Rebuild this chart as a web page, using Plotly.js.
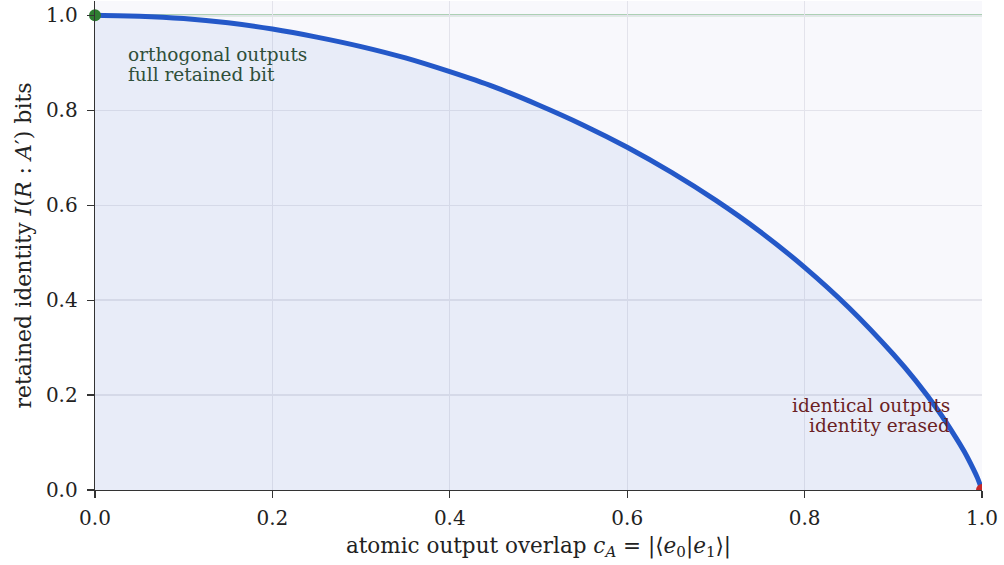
<!DOCTYPE html>
<html><head><meta charset="utf-8">
<script src="https://cdn.plot.ly/plotly-3.0.1.min.js"></script>
<style>html,body{margin:0;padding:0;background:#fff}</style>
</head><body>
<div id="chart" style="width:1004px;height:565px"></div>
<script>
const overlap = [0, 0.05, 0.1, 0.15, 0.2, 0.25, 0.3, 0.35, 0.4, 0.45, 0.5, 0.55, 0.6, 0.65, 0.7, 0.75, 0.8, 0.85, 0.9, 0.925, 0.95, 0.97, 0.98, 0.99, 0.995, 1.0];
const retained = [1.0, 0.998, 0.993, 0.984, 0.971, 0.954, 0.934, 0.910, 0.881, 0.849, 0.811, 0.769, 0.722, 0.669, 0.610, 0.544, 0.469, 0.384, 0.286, 0.231, 0.169, 0.112, 0.081, 0.045, 0.025, 0.0];
const endpointsX = [0, 1];
const endpointsY = [1, 0];
const xTicks = [0, 0.2, 0.4, 0.6, 0.8, 1.0];
const yTicks = [0, 0.2, 0.4, 0.6, 0.8, 1.0];
const leftNote = ['orthogonal outputs', 'full retained bit'];
const rightNote = ['identical outputs', 'identity erased'];

const font = "DejaVu Serif";
const traces = [
  {x: overlap, y: retained, type: 'scatter', mode: 'lines', fill: 'tozeroy',
   fillcolor: 'rgba(36,88,200,0.075)', line: {color: '#2458c8', width: 5, shape: 'spline', smoothing: 0.6}, hoverinfo: 'skip'},
  {x: [endpointsX[0]], y: [endpointsY[0]], type: 'scatter', mode: 'markers', cliponaxis: false,
   marker: {color: '#2e7d32', size: 12}},
  {x: [endpointsX[1]], y: [endpointsY[1]], type: 'scatter', mode: 'markers', cliponaxis: true,
   marker: {color: '#c62828', size: 12}}
];
const axisCommon = {
  showgrid: true, gridcolor: '#e3e3eb', gridwidth: 1.3, zeroline: false,
  showline: true, linecolor: '#333', linewidth: 1.3, mirror: false,
  ticks: 'outside', ticklen: 7, tickcolor: '#333', tickwidth: 1.2,
  tickfont: {family: font, size: 20, color: '#222'}, tickformat: '.1f'
};
const noteFont = (c) => ({family: font, size: 18.5, color: c});
const layout = {
  width: 1004, height: 565,
  margin: {l: 95, r: 22, t: 1, b: 75},
  paper_bgcolor: '#ffffff', plot_bgcolor: '#f8f8fc',
  showlegend: false,
  font: {family: font, color: '#222'},
  xaxis: Object.assign({}, axisCommon, {range: [0, 1], tickvals: xTicks, ticklabelstandoff: 3,
    title: {text: 'atomic output overlap <i>c</i><sub><i>A</i></sub> = |⟨<i>e</i><sub>0</sub>|<i>e</i><sub>1</sub>⟩|', font: {family: font, size: 21.5, color: '#222'}, standoff: 8}}),
  yaxis: Object.assign({}, axisCommon, {range: [0, 1.03], tickvals: yTicks, ticklabelstandoff: 5,
    title: {text: 'retained identity <i>I</i>(<i>R</i> : <i>A</i>′) bits', font: {family: font, size: 22, color: '#222'}, standoff: 8}}),
  shapes: [
    {type: 'line', xref: 'paper', x0: 0, x1: 1, yref: 'y', y0: 1, y1: 1,
     line: {color: '#93c39c', width: 2}, layer: 'between'}
  ],
  annotations: [
    {x: 0.035, y: 0.918, xref: 'x', yref: 'y', xanchor: 'left', yanchor: 'middle', align: 'left',
     showarrow: false, text: leftNote[0], font: noteFont('#2f4f3a')},
    {x: 0.035, y: 0.876, xref: 'x', yref: 'y', xanchor: 'left', yanchor: 'middle', align: 'left',
     showarrow: false, text: leftNote[1], font: noteFont('#2f4f3a')},
    {x: 0.9665, y: 0.179, xref: 'x', yref: 'y', xanchor: 'right', yanchor: 'middle', align: 'right',
     showarrow: false, text: rightNote[0], font: noteFont('#6b1f24')},
    {x: 0.9665, y: 0.135, xref: 'x', yref: 'y', xanchor: 'right', yanchor: 'middle', align: 'right',
     showarrow: false, text: rightNote[1], font: noteFont('#6b1f24')}
  ]
};
Plotly.newPlot('chart', traces, layout, {displayModeBar: false, staticPlot: true});
</script>
</body></html>
